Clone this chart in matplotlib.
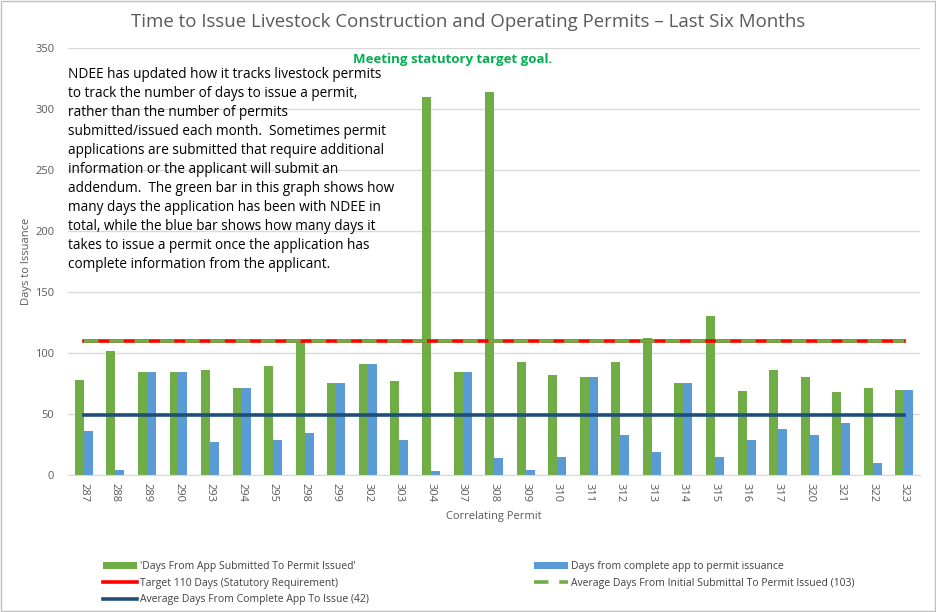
import numpy as np
import matplotlib.pyplot as plt
from matplotlib.patches import Rectangle

# ──────────────────────────────────────────────
# data
permits = ['287', '288', '289', '290', '293', '294', '295', '298', '299', '302',
           '303', '304', '307', '308', '309', '310', '311', '312', '313', '314',
           '315', '316', '317', '320', '321', '322', '323']
days_total = [78, 102, 84, 84, 86, 71, 89, 110, 75, 91,
              77, 310, 84, 314, 93, 82, 80, 93, 112, 75,
              130, 69, 86, 80, 68, 71, 70]
days_complete = [36, 4, 84, 84, 27, 71, 29, 34, 75, 91,
                 29, 3, 84, 14, 4, 15, 80, 33, 19, 75,
                 15, 29, 38, 33, 43, 10, 70]
target_days = 110
avg_total_line = 109.5
avg_complete_line = 49

note = ("NDEE has updated how it tracks livestock permits\n"
        "to track the number of days to issue a permit,\n"
        "rather than the number of permits\n"
        "submitted/issued each month.  Sometimes permit\n"
        "applications are submitted that require additional\n"
        "information or the applicant will submit an\n"
        "addendum.  The green bar in this graph shows how\n"
        "many days the application has been with NDEE in\n"
        "total, while the blue bar shows how many days it\n"
        "takes to issue a permit once the application has\n"
        "complete information from the applicant.")

# ──────────────────────────────────────────────
plt.rcParams['font.family'] = ['Open Sans', 'DejaVu Sans']

fig = plt.figure(figsize=(9.36, 6.12), dpi=100)
ax = fig.add_axes([0.0727, 0.2239, 0.9103, 0.6977])

x = np.arange(len(permits))
w = 0.285
bar_total = ax.bar(x - w / 2, days_total, w, color='#70AD47', zorder=2)
bar_complete = ax.bar(x + w / 2, days_complete, w, color='#5B9BD5', zorder=2)

ln_target, = ax.plot(x, [target_days] * len(x), color='#FF0000', lw=2.6, zorder=3)
ln_avg_total, = ax.plot(x, [avg_total_line] * len(x), color='#70AD47', lw=2.6,
                        dashes=(4, 3), zorder=4)
ln_avg_complete, = ax.plot(x, [avg_complete_line] * len(x), color='#1F4E79', lw=2.6, zorder=3)

ax.set_xlim(-0.5, len(x) - 0.5)
ax.set_ylim(0, 350)
ax.set_yticks(range(0, 351, 50))
ax.set_xticks(x)
ax.set_xticklabels(permits, rotation=270, fontsize=8, color='#595959')
ax.tick_params(axis='y', labelsize=8, labelcolor='#595959', length=0, pad=10)
ax.tick_params(axis='x', length=0, pad=6)
ax.grid(axis='y', color='#D9D9D9', lw=1, zorder=0)
for s in ['top', 'right', 'left']:
    ax.spines[s].set_visible(False)
ax.spines['bottom'].set_color('#D9D9D9')

ax.set_ylabel('Days to Issuance', fontsize=8, color='#595959', labelpad=2)
ax.set_xlabel('Correlating Permit', fontsize=8, color='#595959', labelpad=6)

fig.text(0.5, 0.964, 'Time to Issue Livestock Construction and Operating Permits \u2013 Last Six Months',
         ha='center', va='center', fontsize=13.4, color='#595959')

fig.text(0.0727, 0.891, note, ha='left', va='top', fontsize=9.8,
         color='black', linespacing=1.37)
fig.text(0.484, 0.903, 'Meeting statutory target goal.', ha='center', va='center',
         fontsize=9.5, fontweight='bold', color='#00B050')

# column-major order so rows read: bars / target + avg total / avg complete
handles = [bar_total, ln_target, ln_avg_complete, bar_complete, ln_avg_total]
labels = ["'Days From App Submitted To Permit Issued'",
          'Target 110 Days (Statutory Requirement)',
          'Average Days From Complete App To Issue (42)',
          'Days from complete app to permit issuance',
          'Average Days From Initial Submittal To Permit Issued (103)']
leg = fig.legend(handles, labels, loc='lower left', bbox_to_anchor=(0.1, -0.004), ncol=2,
                 frameon=False, fontsize=7.5, columnspacing=15.8,
                 handlelength=3.3, handleheight=0.6, handletextpad=0.3, labelspacing=0.52)
for t in leg.get_texts():
    t.set_color('#404040')

fig.patches.append(Rectangle((0.001, 0.001), 0.998, 0.997, transform=fig.transFigure,
                             fill=False, edgecolor='#BFBFBF', lw=1))

fig.savefig('out.png', dpi=100)
